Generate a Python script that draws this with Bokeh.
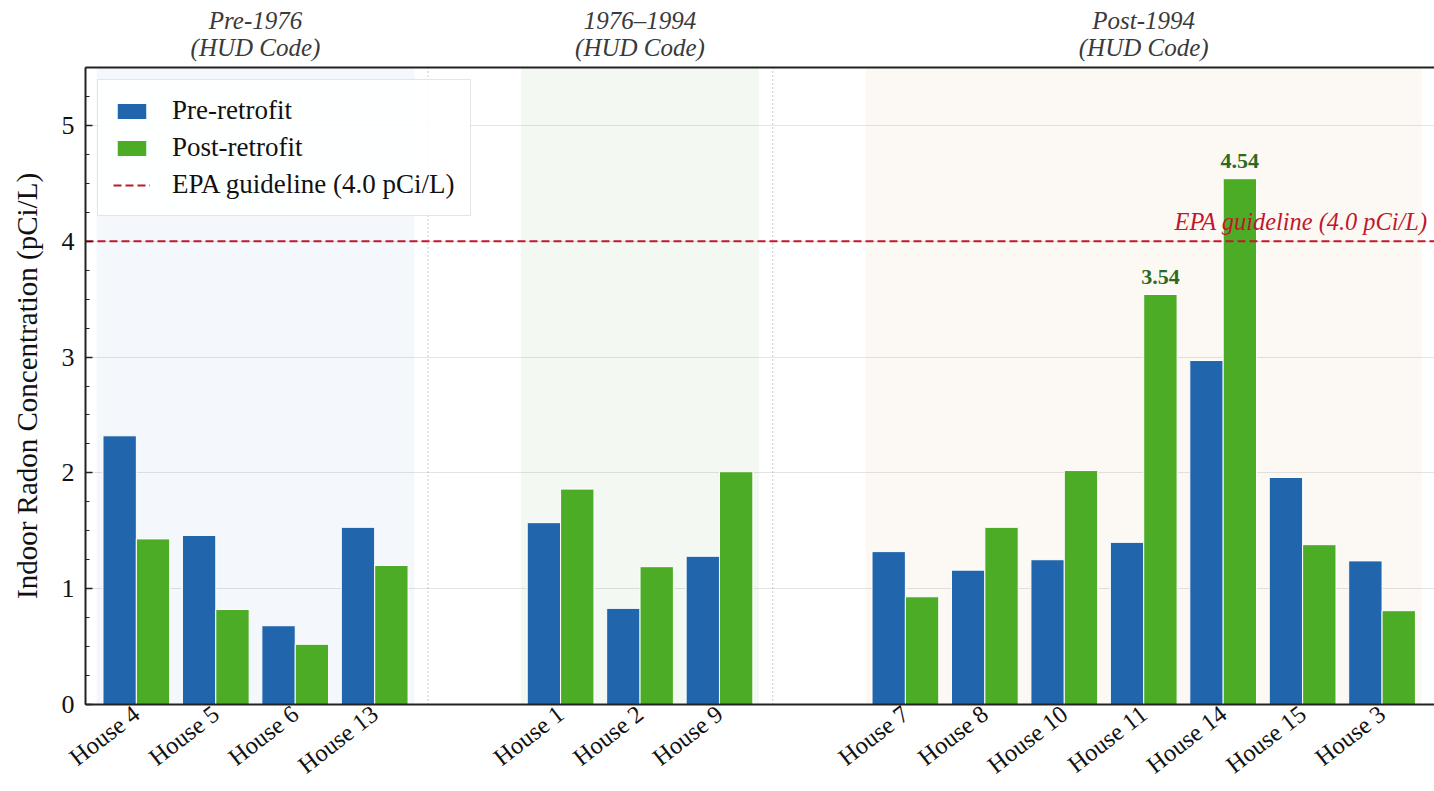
from bokeh.plotting import figure
from bokeh.models import (Range1d, FixedTicker, LinearAxis, BoxAnnotation, Span, Label,
                          Legend, LegendItem, ColumnDataSource)
from bokeh.core.properties import value
from bokeh.transform import dodge
from bokeh.embed import file_html
from bokeh.resources import INLINE

# ---------------- data ----------------
group_titles = ["Pre-1976", "1976\u20131994", "Post-1994"]
group_subtitle = "(HUD Code)"
group_pre1976 = ["House 4", "House 5", "House 6", "House 13"]
group_1976_1994 = ["House 1", "House 2", "House 9"]
group_post1994 = ["House 7", "House 8", "House 10", "House 11", "House 14", "House 15", "House 3"]

pre_retrofit = [2.32, 1.46, 0.68, 1.53,
                1.57, 0.83, 1.28,
                1.32, 1.16, 1.25, 1.40, 2.97, 1.96, 1.24]
post_retrofit = [1.43, 0.82, 0.52, 1.20,
                 1.86, 1.19, 2.01,
                 0.93, 1.53, 2.02, 3.54, 4.54, 1.38, 0.81]
EPA_GUIDELINE = 4.0
ANNOTATE_ABOVE = 3.0

# ---------------- layout helpers ----------------
groups = [group_pre1976, group_1976_1994, group_post1994]
SLOT = 100
GAP = 234
BAR_W = 42
OFF = 21

xs, names, spans = [], [], []
pos = 0
for g in groups:
    start = pos
    for h in g:
        xs.append(pos)
        names.append(h)
        pos += SLOT
    end = pos - SLOT
    spans.append((start, end))
    pos = end + GAP

FONT = "Liberation Serif"
BLUE = "#2166ac"
GREEN = "#4dac26"
RED = "#c0182d"
AXIS_C = "#222222"
band_colors = ["#2166ac", "#1a7a1a", "#c38723"]

x_lo, x_hi = xs[0] - 64, xs[-1] + 66
p = figure(width=1434, height=791, output_backend="svg", toolbar_location=None,
           x_range=Range1d(x_lo, x_hi), y_range=Range1d(0, 5.5),
           min_border_left=85, min_border_right=0, min_border_top=67, min_border_bottom=86,
           background_fill_color="white", border_fill_color="white")
p.outline_line_color = None
p.xgrid.visible = False
p.ygrid.grid_line_color = "#e4e4e4"
p.ygrid.grid_line_width = 1

# group bands and dividers
for i, (s, e) in enumerate(spans):
    p.add_layout(BoxAnnotation(left=s - SLOT / 2, right=e + SLOT / 2, fill_color=band_colors[i],
                               fill_alpha=0.05, line_color=None, level="underlay"))
    if i < len(spans) - 1:
        p.add_layout(Span(location=e + 67, dimension="height", line_color="#9a9a9a",
                          line_dash="1 3", line_width=1, level="underlay"))

src = ColumnDataSource(dict(x=xs, pre=pre_retrofit, post=post_retrofit, name=names))
r_pre = p.vbar(x=dodge("x", -OFF, range=p.x_range), top="pre", width=BAR_W, source=src,
               fill_color=BLUE, line_color="white", line_width=1)
r_post = p.vbar(x=dodge("x", OFF, range=p.x_range), top="post", width=BAR_W, source=src,
                fill_color=GREEN, line_color="white", line_width=1)

# EPA line (drawn across the whole x range)
r_epa = p.line(x=[x_lo, x_hi], y=[EPA_GUIDELINE, EPA_GUIDELINE], line_color=RED,
               line_dash="8 4", line_width=2.2)
p.add_layout(Label(x=x_hi, y=EPA_GUIDELINE, x_offset=-7, y_offset=20,
                   text="EPA guideline (4.0 pCi/L)", text_align="right", text_baseline="alphabetic",
                   text_font=FONT, text_font_style="italic", text_font_size="24.4px", text_color=RED))

# annotations on high post-retrofit bars
ax = [x + OFF for x, v in zip(xs, post_retrofit) if v > ANNOTATE_ABOVE]
av = [v for v in post_retrofit if v > ANNOTATE_ABOVE]
p.text(x=ax, y=av, text=[f"{v:.2f}" for v in av], y_offset=-18, text_align="center",
       text_baseline="alphabetic", text_font=value(FONT), text_font_style="bold",
       text_font_size="22px", text_color="#2d6a1f")

# y axis
yax = p.yaxis[0]
yax.ticker = FixedTicker(ticks=[0, 1, 2, 3, 4, 5], minor_ticks=[0.25 * i for i in range(23)])
yax.axis_label = "Indoor Radon Concentration (pCi/L)"
yax.axis_label_text_font = FONT
yax.axis_label_text_font_style = "normal"
yax.axis_label_text_font_size = "29px"
yax.axis_label_text_color = "#111111"
yax.axis_label_standoff = 16
yax.major_label_text_font = FONT
yax.major_label_text_font_size = "26px"
yax.major_label_text_color = "#111111"
yax.major_label_standoff = 11
yax.major_tick_in = 7
yax.major_tick_out = 0
yax.minor_tick_in = 4
yax.minor_tick_out = 0
yax.axis_line_width = 2
yax.axis_line_color = AXIS_C
yax.major_tick_line_color = AXIS_C
yax.minor_tick_line_color = AXIS_C
yax.major_tick_line_width = 1.5

# x axis
xax = p.xaxis[0]
xax.ticker = FixedTicker(ticks=xs)
xax.major_label_overrides = {x: n for x, n in zip(xs, names)}
xax.major_label_orientation = 0.66
xax.major_label_text_font = FONT
xax.major_label_text_font_size = "24.5px"
xax.major_label_text_color = "#111111"
xax.major_label_standoff = 6
xax.major_tick_in = 0
xax.major_tick_out = 0
xax.minor_tick_in = 0
xax.minor_tick_out = 0
xax.axis_line_width = 2
xax.axis_line_color = AXIS_C

# top spine carrying the group headings
centers = [(s + e) // 2 for s, e in spans]
top = LinearAxis(ticker=FixedTicker(ticks=centers),
                 major_label_overrides={c: f"{t}\n{group_subtitle}" for c, t in zip(centers, group_titles)},
                 major_label_text_font=FONT, major_label_text_font_style="italic",
                 major_label_text_font_size="25px", major_label_text_color="#3a3a3a",
                 major_label_text_line_height=1.0, major_label_standoff=7,
                 major_tick_in=0, major_tick_out=0, minor_tick_in=0, minor_tick_out=0,
                 axis_line_width=2, axis_line_color=AXIS_C)
p.add_layout(top, "above")

legend = Legend(items=[LegendItem(label="Pre-retrofit", renderers=[r_pre]),
                       LegendItem(label="Post-retrofit", renderers=[r_post]),
                       LegendItem(label="EPA guideline (4.0 pCi/L)", renderers=[r_epa])],
                location="top_left")
legend.label_text_font = FONT
legend.label_text_font_size = "27px"
legend.label_text_color = "#111111"
legend.glyph_width = 37
legend.glyph_height = 20
legend.spacing = 6
legend.padding = 15
legend.margin = 12
legend.label_standoff = 22
legend.border_line_color = "#cccccc"
legend.border_line_width = 1
legend.background_fill_alpha = 0.9
p.add_layout(legend)

open("out.html", "w").write(file_html(p, INLINE))
